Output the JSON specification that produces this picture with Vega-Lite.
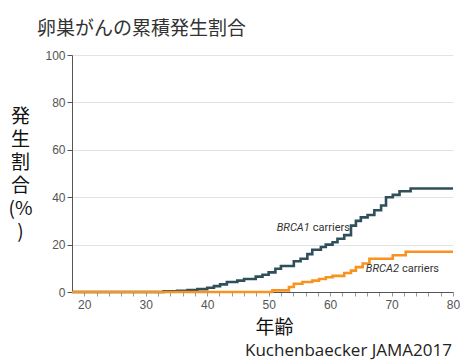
{
  "$schema": "https://vega.github.io/schema/vega-lite/v6.json",
  "autosize": "none",
  "width": 381,
  "height": 237,
  "padding": {"left": 72, "top": 55, "right": 7, "bottom": 68},
  "background": "white",
  "title": {
    "text": "卵巣がんの累積発生割合",
    "anchor": "start",
    "frame": "group",
    "dx": -35,
    "offset": -9,
    "baseline": "bottom",
    "font": "Noto Sans CJK JP",
    "fontSize": 19,
    "fontWeight": "normal",
    "color": "#333333"
  },
  "config": {
    "view": {"stroke": null},
    "axis": {"labelFont": "Liberation Sans", "labelFontSize": 12, "labelColor": "#555555", "domainColor": "#555555", "tickColor": "#999999", "labelOverlap": false}
  },
  "datasets": {
    "curves": [
      {"age": 18, "pct": 0, "group": "BRCA1"},
      {"age": 32.9, "pct": 0.3, "group": "BRCA1"},
      {"age": 35.1, "pct": 0.5, "group": "BRCA1"},
      {"age": 36.8, "pct": 0.8, "group": "BRCA1"},
      {"age": 38.4, "pct": 1.2, "group": "BRCA1"},
      {"age": 40.0, "pct": 1.8, "group": "BRCA1"},
      {"age": 41.1, "pct": 2.5, "group": "BRCA1"},
      {"age": 42.1, "pct": 3.2, "group": "BRCA1"},
      {"age": 43.2, "pct": 4.2, "group": "BRCA1"},
      {"age": 44.9, "pct": 4.8, "group": "BRCA1"},
      {"age": 46.0, "pct": 5.5, "group": "BRCA1"},
      {"age": 47.9, "pct": 6.5, "group": "BRCA1"},
      {"age": 49.0, "pct": 7.3, "group": "BRCA1"},
      {"age": 50.0, "pct": 8.3, "group": "BRCA1"},
      {"age": 51.1, "pct": 9.8, "group": "BRCA1"},
      {"age": 52.0, "pct": 11, "group": "BRCA1"},
      {"age": 54.1, "pct": 13, "group": "BRCA1"},
      {"age": 55.2, "pct": 14, "group": "BRCA1"},
      {"age": 56.3, "pct": 16, "group": "BRCA1"},
      {"age": 57.1, "pct": 17.8, "group": "BRCA1"},
      {"age": 58.5, "pct": 19, "group": "BRCA1"},
      {"age": 59.3, "pct": 20, "group": "BRCA1"},
      {"age": 60.4, "pct": 21, "group": "BRCA1"},
      {"age": 61.2, "pct": 22.5, "group": "BRCA1"},
      {"age": 62.3, "pct": 24, "group": "BRCA1"},
      {"age": 63.4, "pct": 28, "group": "BRCA1"},
      {"age": 64.2, "pct": 30, "group": "BRCA1"},
      {"age": 65.0, "pct": 31.5, "group": "BRCA1"},
      {"age": 66.1, "pct": 32.5, "group": "BRCA1"},
      {"age": 67.2, "pct": 34.5, "group": "BRCA1"},
      {"age": 68.3, "pct": 36.5, "group": "BRCA1"},
      {"age": 69.1, "pct": 40, "group": "BRCA1"},
      {"age": 70.2, "pct": 41, "group": "BRCA1"},
      {"age": 71.3, "pct": 42.5, "group": "BRCA1"},
      {"age": 73.1, "pct": 43.7, "group": "BRCA1"},
      {"age": 80, "pct": 43.7, "group": "BRCA1"},
      {"age": 18, "pct": 0, "group": "BRCA2"},
      {"age": 50.6, "pct": 0.7, "group": "BRCA2"},
      {"age": 53.3, "pct": 2.1, "group": "BRCA2"},
      {"age": 54.1, "pct": 3.5, "group": "BRCA2"},
      {"age": 55.5, "pct": 4.2, "group": "BRCA2"},
      {"age": 57.1, "pct": 4.8, "group": "BRCA2"},
      {"age": 58.2, "pct": 5.5, "group": "BRCA2"},
      {"age": 59.3, "pct": 6.2, "group": "BRCA2"},
      {"age": 60.4, "pct": 6.8, "group": "BRCA2"},
      {"age": 62.3, "pct": 8, "group": "BRCA2"},
      {"age": 63.4, "pct": 9, "group": "BRCA2"},
      {"age": 64.2, "pct": 10.5, "group": "BRCA2"},
      {"age": 65.3, "pct": 12, "group": "BRCA2"},
      {"age": 66.4, "pct": 14, "group": "BRCA2"},
      {"age": 70.2, "pct": 15.5, "group": "BRCA2"},
      {"age": 72.3, "pct": 17, "group": "BRCA2"},
      {"age": 80, "pct": 17, "group": "BRCA2"}
    ],
    "labels": [
      {"age": 56.7, "pct": 27, "gene": "BRCA1", "rest": "carriers"},
      {"age": 71.2, "pct": 9.6, "gene": "BRCA2", "rest": "carriers"}
    ],
    "note": [
      {"age": 80, "pct": 0, "text": "Kuchenbaecker JAMA2017"}
    ]
  },
  "encoding": {
    "x": {
      "field": "age", "type": "quantitative",
      "scale": {"domain": [18, 80], "nice": false, "zero": false},
      "axis": {
        "values": [20,22,24,26,28,30,32,34,36,38,40,42,44,46,48,50,52,54,56,58,60,62,64,66,68,70,72,74,76,78,80],
        "labelExpr": "datum.value % 10 === 0 ? datum.label : ''",
        "labelOverlap": false,
        "labelBound": false,
        "labelFlush": false,
        "grid": false,
        "tickSize": 4,
        "labelPadding": 3,
        "title": "年齢",
        "titleFont": "Noto Sans CJK JP",
        "titleFontSize": 19,
        "titleFontWeight": "normal",
        "titleColor": "#111111",
        "titleX": 202,
        "titleY": 35,
        "titleAlign": "center",
        "titleBaseline": "middle"
      }
    },
    "y": {
      "field": "pct", "type": "quantitative",
      "scale": {"domain": [0, 100], "nice": false},
      "axis": {
        "values": [0, 20, 40, 60, 80, 100],
        "grid": true,
        "gridColor": "#e3e3e3",
        "tickSize": 5,
        "tickColor": "#555555",
        "labelPadding": 2,
        "title": ["発", "生", "割", "合", "(%", ")"],
        "titleAngle": 0,
        "titleFont": "Noto Sans CJK JP",
        "titleFontSize": 19,
        "titleFontWeight": "normal",
        "titleColor": "#111111",
        "titleLineHeight": 23,
        "titleX": -52,
        "titleY": 52,
        "titleAlign": "center",
        "titleBaseline": "top"
      }
    }
  },
  "layer": [
    {
      "data": {"name": "curves"},
      "mark": {"type": "line", "interpolate": "step-after", "strokeWidth": 2.6, "clip": false},
      "encoding": {
        "color": {
          "field": "group", "type": "nominal",
          "scale": {"domain": ["BRCA1", "BRCA2"], "range": ["#2f4f5a", "#f7931e"]},
          "legend": null
        }
      }
    },
    {
      "data": {"name": "labels"},
      "mark": {"type": "text", "align": "right", "baseline": "middle", "font": "Roboto", "fontSize": 11, "fontStyle": "italic", "color": "#333333"},
      "encoding": {
        "text": {"field": "gene"}
      }
    },
    {
      "data": {"name": "labels"},
      "mark": {"type": "text", "align": "left", "baseline": "middle", "dx": 3, "font": "Roboto", "fontSize": 11, "color": "#333333"},
      "encoding": {
        "text": {"field": "rest"}
      }
    },
    {
      "data": {"name": "note"},
      "mark": {"type": "text", "align": "right", "baseline": "alphabetic", "dx": -1, "dy": 64, "font": "Open Sans", "fontSize": 17, "color": "#222222"},
      "encoding": {
        "text": {"field": "text"}
      }
    }
  ]
}
